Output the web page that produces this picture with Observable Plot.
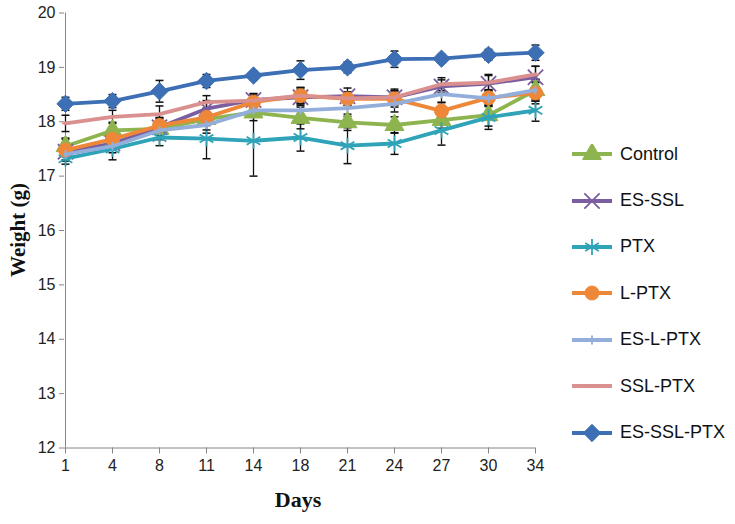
<!DOCTYPE html>
<html>
<head>
<meta charset="utf-8">
<script src="https://cdn.jsdelivr.net/npm/d3@7"></script>
<script src="https://cdn.jsdelivr.net/npm/@observablehq/plot@0.6"></script>
<style>
  html, body { margin: 0; padding: 0; background: #fff; }
  #wrap { position: relative; width: 735px; height: 524px; overflow: hidden; }
  #ytitle { position: absolute; left: 18px; top: 230px; transform: translate(-50%, -50%) rotate(-90deg);
            font: bold 21px "Liberation Serif", "DejaVu Serif", serif; white-space: nowrap; color: #111; }
  #xtitle { position: absolute; left: 298px; top: 500px; transform: translate(-50%, -50%);
            font: bold 22px "Liberation Serif", "DejaVu Serif", serif; color: #111; }
  #legend { position: absolute; left: 570px; top: 131px; font: 18px "Liberation Sans", Arial, sans-serif; color: #111; }
  .item { display: flex; align-items: center; height: 46.4px; }
  .item svg { margin-right: 6px; }
</style>
</head>
<body>
<div id="wrap">
  <div id="chart"></div>
  <div id="ytitle">Weight (g)</div>
  <div id="xtitle">Days</div>
  <div id="legend"></div>
</div>
<script>
const days = ["1","4","8","11","14","18","21","24","27","30","34"];
const yTicks = [12,13,14,15,16,17,18,19,20];
const groups = ["Control","ES-SSL","PTX","L-PTX","ES-L-PTX","SSL-PTX","ES-SSL-PTX"];
const colors = ["#8DB44E","#7B5EA0","#2FA3B8","#EE8838","#93AEDB","#D9908E","#3D6FB4"];

const control   = [17.55,17.84,17.87,18.05,18.17,18.07,17.99,17.94,18.03,18.12,18.58];
const esSSL     = [17.45,17.60,17.90,18.24,18.40,18.45,18.47,18.45,18.65,18.70,18.82];
const ptx       = [17.32,17.50,17.71,17.69,17.65,17.71,17.56,17.60,17.84,18.08,18.21];
const lPTX      = [17.48,17.68,17.93,18.08,18.36,18.48,18.42,18.42,18.20,18.44,18.53];
const esLPTX    = [17.40,17.55,17.84,17.94,18.21,18.21,18.25,18.33,18.51,18.43,18.58];
const sslPTX    = [17.97,18.09,18.14,18.36,18.39,18.48,18.43,18.45,18.69,18.72,18.87];
const esSSLPTX  = [18.33,18.38,18.56,18.75,18.85,18.95,19.00,19.15,19.16,19.23,19.27];

const errControl  = [0.15,0.15,0.20,0.20,0.15,0.20,0.15,0.15,0.15,0.20,0.20];
const errEsSSL    = [0.15,0.10,0.15,0.15,0.12,0.15,0.15,0.15,0.12,0.15,0.20];
const errPtx      = [0.10,0.20,0.15,0.37,0.65,0.25,0.33,0.20,0.27,0.22,0.20];
const errLPTX     = [0.20,0.15,0.15,0.15,0.12,0.15,0.12,0.15,0.15,0.15,0.20];
const errEsLPTX   = [0.12,0.12,0.15,0.15,0.12,0.15,0.15,0.15,0.15,0.15,0.20];
const errSslPTX   = [0.15,0.12,0.15,0.12,0.12,0.15,0.12,0.12,0.12,0.15,0.15];
const errEsSSLPTX = [0.12,0.12,0.20,0.12,0.08,0.17,0.10,0.15,0.08,0.10,0.14];

const seriesValues = [control, esSSL, ptx, lPTX, esLPTX, sslPTX, esSSLPTX];
const seriesErrors = [errControl, errEsSSL, errPtx, errLPTX, errEsLPTX, errSslPTX, errEsSSLPTX];

// custom symbols
const hline = { draw(ctx, size) { const w = Math.sqrt(size) / 2; ctx.moveTo(-w, 0); ctx.lineTo(w, 0); } };
const vline = { draw(ctx, size) { const w = Math.sqrt(size) / 2; ctx.moveTo(0, -w); ctx.lineTo(0, w); } };
const markerSpecs = [
  {symbol: "triangle", r: 7, filled: true},
  {symbol: "times", r: 7, filled: false},
  {symbol: "asterisk", r: 7.5, filled: false},
  {symbol: "circle", r: 7, filled: true},
  {symbol: vline, r: 5, filled: false},
  {symbol: hline, r: 4, filled: false},
  {symbol: "diamond2", r: 7.8, filled: true}
];

const rows = [];
groups.forEach((g, gi) => {
  days.forEach((d, i) => {
    const v = seriesValues[gi][i], e = seriesErrors[gi][i];
    rows.push({group: g, gi, day: d, value: v, lo: v - e, hi: v + e});
  });
});

const capSymbol = { draw(ctx, size) { const w = Math.sqrt(size) / 2; ctx.moveTo(-w, 0); ctx.lineTo(w, 0); } };

const marks = [
  Plot.axisY({ticks: yTicks, tickSize: 5, tickPadding: 4, stroke: "#868686", fill: "#222", fontSize: 16, label: null}),
  Plot.axisX({tickSize: 6, tickPadding: 6, stroke: "#868686", fill: "#222", fontSize: 16, label: null}),
  Plot.ruleY([12], {stroke: "#868686"}),
  Plot.ruleX([days[0]], {stroke: "#868686"}),
  Plot.ruleX(rows, {x: "day", y1: "lo", y2: "hi", stroke: "#111", strokeWidth: 1.3}),
  Plot.dot(rows, {x: "day", y: "lo", symbol: capSymbol, r: 4.5, stroke: "#111", strokeWidth: 1.5}),
  Plot.dot(rows, {x: "day", y: "hi", symbol: capSymbol, r: 4.5, stroke: "#111", strokeWidth: 1.5})
];
groups.forEach((g, gi) => {
  const data = rows.filter(r => r.gi === gi);
  const m = markerSpecs[gi];
  marks.push(Plot.line(data, {x: "day", y: "value", stroke: colors[gi], strokeWidth: 3.8}));
  marks.push(Plot.dot(data, {
    x: "day", y: "value", symbol: m.symbol, r: m.r,
    fill: m.filled ? colors[gi] : "none",
    stroke: colors[gi], strokeWidth: m.filled ? 1 : 1.8
  }));
});

const chart = Plot.plot({
  width: 735,
  height: 524,
  marginLeft: 64,
  marginRight: 200,
  marginTop: 12.5,
  marginBottom: 76.5,
  x: {type: "point", domain: days, padding: 0},
  y: {domain: [12, 20]},
  style: {fontFamily: "'Liberation Sans', Arial, sans-serif", fontSize: "16px", background: "#fff"},
  marks
});
document.getElementById("chart").appendChild(chart);

// legend
const legend = document.getElementById("legend");
const symbolMap = {triangle: d3.symbolTriangle, times: d3.symbolTimes, asterisk: d3.symbolAsterisk,
                   circle: d3.symbolCircle, diamond2: d3.symbolDiamond2};
groups.forEach((g, gi) => {
  const m = markerSpecs[gi];
  const item = document.createElement("div");
  item.className = "item";
  const svg = d3.create("svg").attr("width", 44).attr("height", 20);
  svg.append("line").attr("x1", 2).attr("x2", 42).attr("y1", 10).attr("y2", 10)
     .attr("stroke", colors[gi]).attr("stroke-width", 3.8);
  const type = typeof m.symbol === "string" ? symbolMap[m.symbol] : m.symbol;
  svg.append("path").attr("transform", "translate(22,10)")
     .attr("d", d3.symbol(type, m.r * m.r * Math.PI)())
     .attr("fill", m.filled ? colors[gi] : "none")
     .attr("stroke", colors[gi]).attr("stroke-width", m.filled ? 1 : 1.8);
  item.appendChild(svg.node());
  const span = document.createElement("span");
  span.textContent = g;
  item.appendChild(span);
  legend.appendChild(item);
});
</script>
</body>
</html>
